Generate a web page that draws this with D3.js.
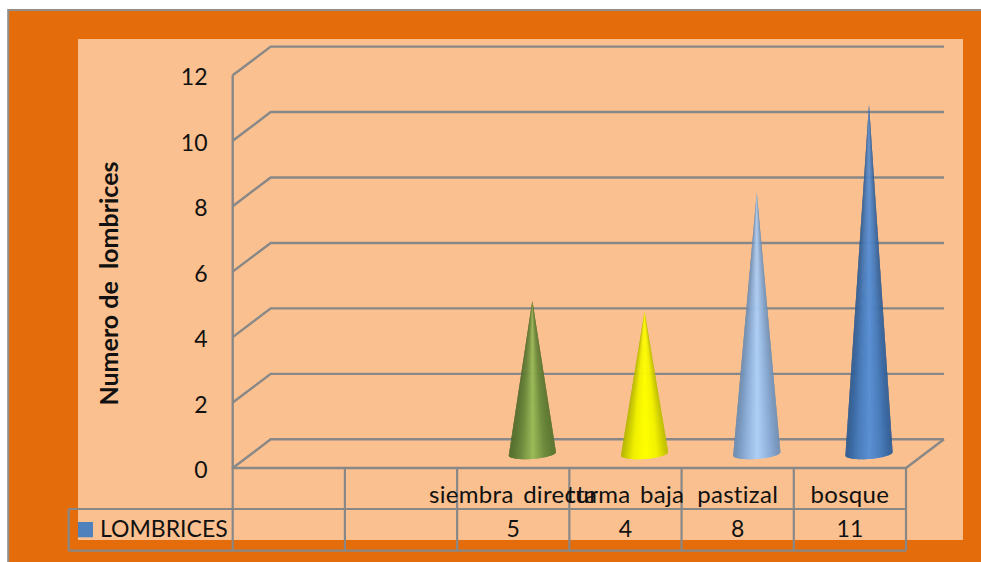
<!DOCTYPE html>
<html><head><meta charset="utf-8"><script src="https://cdn.jsdelivr.net/npm/d3@7"></script>
<style>html,body{margin:0;padding:0;background:#fff;overflow:hidden}svg{display:block}text{font-family:Lato,"Open Sans",sans-serif;fill:#111}</style></head>
<body><svg id="c" width="981" height="562"></svg>
<script>
const categories = ["", "", "siembra directa", "turma baja", "pastizal", "bosque"];
const tableValues = ["", "", "5", "4", "8", "11"];
const coneValues = [null, null, 4.68, 4.35, 7.98, 10.67];
const yTicks = [0, 2, 4, 6, 8, 10, 12];
const seriesName = "LOMBRICES";
const yTitle = "Numero de  lombrices";
const coneColors = [null, null,
  ["#4f6b2c", "#6f8c3e", "#9bbb59", "#6f8c3e", "#56732f"],
  ["#b5b500", "#f0f000", "#ffff00", "#f2f200", "#bcbc00"],
  ["#6a8ab0", "#8fb0da", "#aecff5", "#8fb0da", "#6f8fb5"],
  ["#2d5a90", "#4a7cba", "#5b90d4", "#4a7cba", "#2f5c94"]];

const svg = d3.select("#c");
const grid = "#888888";
const W = 981, H = 562;

svg.append("rect").attr("x", 8.2).attr("y", 10).attr("width", W).attr("height", H).attr("fill", "#E46C0A").attr("stroke", "#8f8f8f").attr("stroke-width", 2);
svg.append("rect").attr("x", 78).attr("y", 39).attr("width", 885).attr("height", 501).attr("fill", "#FBC08F");

const y = d3.scaleLinear().domain([0, 12]).range([468, 75.3]);
const x = d3.scaleBand().domain(d3.range(categories.length)).range([232.7, 906]);
const dx = 38, dy = -28.7;
const baseY = 454;

const g = svg.append("g").attr("fill", "none").attr("stroke", grid).attr("stroke-width", 2.4);
g.selectAll("path.tick").data(yTicks).join("path").attr("class", "tick")
  .attr("d", d => `M${x.range()[0]},${y(d)}L${x.range()[0] + dx},${y(d) + dy}H${x.range()[1] + dx}`);
g.append("path").attr("d", `M${x.range()[0]},${y(12)}V${y(0)}H${x.range()[1]}L${x.range()[1] + dx},${y(0) + dy}`);

// cones: conical shading built from thin slivers running from the apex to the base curve
const rx = 23.6, ry = 5.2, tilt = -1.75, baseMid = 453.75, N = 70;
const coneY = d3.scaleLinear().domain([0, 12]).range([baseY, baseY - (y(0) - y(12))]);
const cones = svg.append("g");
coneValues.forEach((v, i) => {
  if (v == null) return;
  const cx = x(i) + x.bandwidth() / 2 + 19.1;
  const shade = d3.piecewise(d3.interpolateRgb, coneColors[i]);
  const tipY = coneY(v);
  const pts = d3.range(N + 1).map(k => {
    const th = Math.PI * (1 - k / N);
    const u = Math.cos(th);
    return { u: (1 + u) / 2, x: cx + rx * u, y: baseMid + tilt * u + ry * Math.sin(th) };
  });
  const line = d3.line().x(p => p.x).y(p => p.y);
  cones.append("g").selectAll("path").data(d3.range(N)).join("path")
    .attr("fill", k => shade(pts[k].u))
    .attr("d", k => line([{ x: cx, y: tipY }, ...pts.slice(k, Math.min(k + 3, N + 1))]) + "Z");
});

const t = svg.append("g").attr("fill", "none").attr("stroke", grid).attr("stroke-width", 2.2);
const rowTop = y(0), rowMid = 509, rowBot = 550.7, tableLeft = 68.7;
t.append("path").attr("d", `M${tableLeft},${rowMid}H${x.range()[1]}M${tableLeft},${rowBot}H${x.range()[1]}M${tableLeft},${rowMid}V${rowBot}`);
t.selectAll("path.v").data(d3.range(categories.length + 1)).join("path").attr("class", "v")
  .attr("d", i => `M${x.range()[0] + i * x.step()},${rowTop}V${rowBot}`);

const fs = 23;
svg.append("g").selectAll("text").data(yTicks).join("text")
  .attr("x", 207.5).attr("y", d => y(d) + 10).attr("text-anchor", "end").attr("font-size", fs).text(d => d);
svg.append("g").selectAll("text").data(categories).join("text")
  .attr("x", (d, i) => x(i) + x.bandwidth() / 2).attr("y", 503).attr("text-anchor", "middle")
  .attr("font-size", 24).attr("letter-spacing", 0.3).attr("word-spacing", 3).text(d => d);
svg.append("g").selectAll("text").data(tableValues).join("text")
  .attr("x", (d, i) => x(i) + x.bandwidth() / 2).attr("y", 537.3).attr("text-anchor", "middle").attr("font-size", fs).text(d => d);
svg.append("rect").attr("x", 78).attr("y", 522).attr("width", 15).attr("height", 15.3).attr("fill", "#4F81BD");
svg.append("text").attr("x", 100).attr("y", 537.3).attr("font-size", fs).text(seriesName);
svg.append("text").attr("transform", "translate(118,283.5) rotate(-90)").attr("text-anchor", "middle")
  .attr("font-size", 25).attr("font-weight", "700").style("white-space", "pre").text(yTitle);
</script></body></html>
